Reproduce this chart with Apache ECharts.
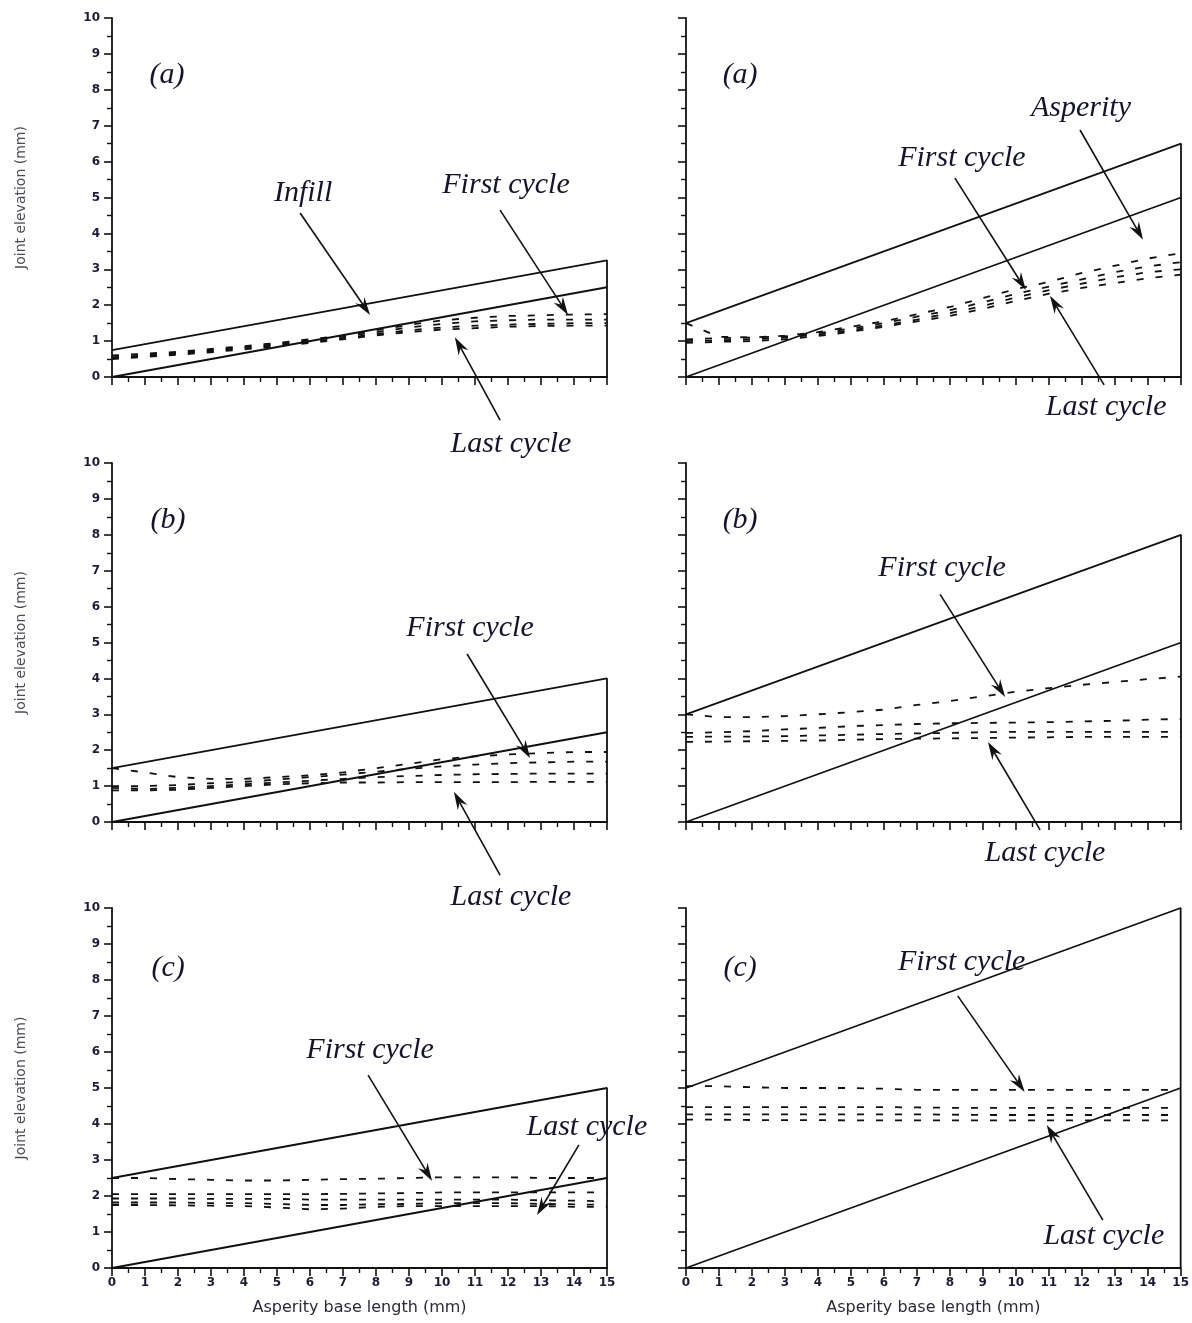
<!DOCTYPE html>
<html><head><meta charset="utf-8">
<script src="https://cdn.jsdelivr.net/npm/echarts@6/dist/echarts.min.js"></script>
<style>html,body{margin:0;padding:0;background:#fff}#c{width:1192px;height:1323px}</style>
</head><body><div id="c"></div>
<script>
// ---- data ----
const xCycle = [0,1,2,3,4,5,6,7,8,9,10,11,12,13,14,15];
const xEnds = [0, 15];
const yTicks = [0,1,2,3,4,5,6,7,8,9,10];

// asperity boundaries: values at x=0 and x=15
const aLeftTop = [0.75, 3.25];   const aLeftBase = [0, 2.5];
const aRightTop = [1.5, 6.5];    const aRightBase = [0, 5];
const bLeftTop = [1.5, 4];       const bLeftBase = [0, 2.5];
const bRightTop = [3, 8];        const bRightBase = [0, 5];
const cLeftTop = [2.5, 5];       const cLeftBase = [0, 2.5];
const cRightTop = [5, 10];       const cRightBase = [0, 5];

// infill surface elevation for successive cycles (first -> last)
const aLeftCycles = [
  [0.60,0.65,0.70,0.78,0.86,0.95,1.05,1.15,1.30,1.45,1.58,1.65,1.70,1.72,1.74,1.75],
  [0.55,0.60,0.68,0.75,0.83,0.92,1.02,1.12,1.25,1.38,1.48,1.55,1.58,1.60,1.60,1.60],
  [0.52,0.58,0.65,0.72,0.80,0.89,0.98,1.08,1.20,1.30,1.38,1.43,1.46,1.48,1.50,1.50],
  [0.50,0.56,0.62,0.69,0.77,0.86,0.95,1.05,1.16,1.25,1.32,1.36,1.40,1.42,1.43,1.43]
];
const aRightCycles = [
  [1.50,1.12,1.10,1.15,1.25,1.40,1.55,1.75,1.95,2.20,2.45,2.65,2.90,3.10,3.30,3.45],
  [1.05,1.08,1.10,1.13,1.22,1.35,1.50,1.68,1.86,2.08,2.32,2.52,2.72,2.92,3.08,3.20],
  [1.00,1.02,1.05,1.10,1.18,1.30,1.44,1.60,1.78,1.98,2.22,2.42,2.60,2.78,2.92,3.00],
  [0.95,0.98,1.00,1.05,1.14,1.26,1.40,1.55,1.70,1.90,2.12,2.32,2.48,2.62,2.75,2.85]
];
const bLeftCycles = [
  [1.50,1.38,1.25,1.20,1.20,1.25,1.30,1.38,1.50,1.62,1.75,1.83,1.88,1.92,1.95,1.95],
  [1.00,1.00,1.03,1.08,1.12,1.18,1.25,1.32,1.40,1.48,1.55,1.60,1.64,1.66,1.68,1.68],
  [0.95,0.92,0.95,1.00,1.05,1.10,1.15,1.20,1.25,1.28,1.31,1.33,1.34,1.35,1.35,1.35],
  [0.88,0.88,0.90,0.95,1.00,1.05,1.08,1.10,1.10,1.11,1.11,1.11,1.11,1.12,1.12,1.12]
];
const bRightCycles = [
  [3.00,2.92,2.92,2.95,3.00,3.06,3.13,3.26,3.37,3.50,3.63,3.73,3.82,3.90,3.98,4.05],
  [2.48,2.50,2.53,2.58,2.62,2.67,2.70,2.73,2.75,2.76,2.77,2.78,2.80,2.82,2.85,2.87],
  [2.37,2.38,2.38,2.39,2.41,2.43,2.45,2.47,2.48,2.50,2.51,2.51,2.51,2.51,2.51,2.51],
  [2.23,2.24,2.25,2.26,2.27,2.29,2.31,2.32,2.33,2.34,2.35,2.36,2.37,2.37,2.37,2.37]
];
const cLeftCycles = [
  [2.50,2.50,2.47,2.45,2.43,2.43,2.45,2.47,2.48,2.50,2.52,2.52,2.52,2.50,2.50,2.50],
  [2.05,2.05,2.05,2.05,2.05,2.05,2.05,2.06,2.07,2.08,2.10,2.10,2.10,2.10,2.10,2.10],
  [1.93,1.93,1.93,1.92,1.92,1.92,1.90,1.90,1.90,1.90,1.90,1.90,1.90,1.88,1.87,1.85],
  [1.82,1.82,1.82,1.80,1.80,1.78,1.75,1.75,1.77,1.78,1.80,1.80,1.80,1.78,1.77,1.75],
  [1.75,1.75,1.74,1.73,1.72,1.68,1.63,1.65,1.70,1.72,1.72,1.72,1.72,1.72,1.70,1.70]
];
const cRightCycles = [
  [5.05,5.05,5.02,5.00,5.00,5.00,4.98,4.95,4.95,4.95,4.95,4.95,4.95,4.95,4.95,4.95],
  [4.47,4.47,4.47,4.47,4.47,4.47,4.47,4.46,4.45,4.45,4.45,4.45,4.45,4.45,4.45,4.45],
  [4.27,4.27,4.27,4.27,4.27,4.27,4.27,4.27,4.26,4.25,4.25,4.25,4.25,4.25,4.25,4.25],
  [4.12,4.12,4.11,4.11,4.11,4.10,4.10,4.10,4.10,4.10,4.10,4.10,4.10,4.10,4.10,4.10]
];

const panelTops = [aLeftTop, aRightTop, bLeftTop, bRightTop, cLeftTop, cRightTop];
const panelBases = [aLeftBase, aRightBase, bLeftBase, bRightBase, cLeftBase, cRightBase];
const panelCycles = [aLeftCycles, aRightCycles, bLeftCycles, bRightCycles, cLeftCycles, cRightCycles];

// ---- annotations (data coordinates of each panel) ----
const notes = [
  {texts:[['(a)',1.67,8.41],['Infill',5.79,5.13],['First cycle',11.94,5.35],['Last cycle',12.09,-1.87]],
   arrows:[[5.70,4.57,7.82,1.73],[11.76,4.65,13.82,1.73],[11.76,-1.20,10.39,1.11]]},
  {texts:[['(a)',1.64,8.41],['Asperity',11.97,7.49],['First cycle',8.36,6.10],['Last cycle',12.73,-0.84]],
   arrows:[[11.94,6.88,13.85,3.82],[8.15,5.54,10.30,2.42],[12.67,-0.22,11.03,2.26]]},
  {texts:[['(b)',1.70,8.41],['First cycle',10.85,5.40],['Last cycle',12.09,-2.09]],
   arrows:[[10.76,4.68,12.67,1.78],[11.76,-1.48,10.36,0.84]]},
  {texts:[['(b)',1.64,8.41],['First cycle',7.76,7.08],['Last cycle',10.88,-0.86]],
   arrows:[[7.70,6.34,9.67,3.48],[10.73,-0.22,9.15,2.23]]},
  {texts:[['(c)',1.70,8.33],['First cycle',7.82,6.06],['Last cycle',14.39,3.92]],
   arrows:[[7.76,5.36,9.70,2.42],[14.15,3.42,12.88,1.47]]},
  {texts:[['(c)',1.64,8.33],['First cycle',8.36,8.50],['Last cycle',12.67,0.89]],
   arrows:[[8.24,7.56,10.27,4.89],[12.64,1.33,10.94,3.97]]}
];

// ---- layout ----
const gridBoxes = [
  {left:112, top:18,  width:495, height:359},
  {left:686, top:18,  width:495, height:359},
  {left:112, top:463, width:495, height:359},
  {left:686, top:463, width:495, height:359},
  {left:112, top:908, width:495, height:360},
  {left:686, top:908, width:495, height:360}
];
const INK = '#111';
const LABEL = '#1c1c38';
const axisFont = 'DejaVu Sans';

const xAxes = [], yAxes = [], series = [];
gridBoxes.forEach((g, i) => {
  const isLeft = i % 2 === 0, isBottom = i >= 4;
  xAxes.push({
    type:'value', gridIndex:i, min:xEnds[0], max:xEnds[1], interval:1,
    axisLine:{show:true, onZero:false, lineStyle:{color:INK, width:1.8}},
    axisTick:{show:true, length:8, lineStyle:{color:INK, width:1.6}},
    minorTick:{show:true, splitNumber:2, length:5, lineStyle:{color:INK, width:1.4}},
    splitLine:{show:false}, minorSplitLine:{show:false},
    axisLabel:{show:isBottom, margin:9, color:LABEL, fontFamily:axisFont, fontWeight:'bold', fontSize:12},
    name: isBottom ? 'Asperity base length (mm)' : '', nameLocation:'middle', nameGap:32,
    nameTextStyle:{color:'#2a2a3a', fontFamily:axisFont, fontSize:16}
  });
  yAxes.push({
    type:'value', gridIndex:i, min:yTicks[0], max:yTicks[yTicks.length-1], interval:1,
    axisLine:{show:true, onZero:false, lineStyle:{color:INK, width:1.8}},
    axisTick:{show:true, length:8, lineStyle:{color:INK, width:1.6}},
    minorTick:{show:true, splitNumber:2, length:5, lineStyle:{color:INK, width:1.4}},
    splitLine:{show:false}, minorSplitLine:{show:false},
    axisLabel:{show:isLeft, margin:12, color:LABEL, fontFamily:axisFont, fontWeight:'bold', fontSize:12},
    name: isLeft ? 'Joint elevation (mm)' : '', nameLocation:'middle', nameGap:84,
    nameTextStyle:{color:'#4a4a58', fontFamily:axisFont, fontSize:14}
  });
  const top = panelTops[i], base = panelBases[i];
  series.push({
    type:'line', xAxisIndex:i, yAxisIndex:i, symbol:'none', silent:true,
    lineStyle:{color:INK, width:1.8},
    data:[[xEnds[0], top[0]], [xEnds[1], top[1]], [xEnds[1], 0]]
  });
  series.push({
    type:'line', xAxisIndex:i, yAxisIndex:i, symbol:'none', silent:true,
    lineStyle:{color:INK, width:1.8},
    data:[[xEnds[0], base[0]], [xEnds[1], base[1]]]
  });
  panelCycles[i].forEach(cyc => {
    series.push({
      type:'line', xAxisIndex:i, yAxisIndex:i, symbol:'none', silent:true,
      lineStyle:{color:INK, width:1.8, type:[7,12]},
      data: xCycle.map((x, k) => [x, cyc[k]])
    });
  });
});

const chart = echarts.init(document.getElementById('c'), null, {renderer:'canvas'});
chart.setOption({
  animation:false, backgroundColor:'#fff',
  grid: gridBoxes.map(g => Object.assign({containLabel:false}, g)),
  xAxis: xAxes, yAxis: yAxes, series: series
});

// ---- annotation graphics ----
const gfx = [];
function px(i, x, y){ return chart.convertToPixel({xAxisIndex:i, yAxisIndex:i}, [x, y]); }
notes.forEach((n, i) => {
  n.texts.forEach(t => {
    const p = px(i, t[1], t[2]);
    gfx.push({type:'text', x:p[0], y:p[1], silent:true, style:{
      text:t[0], fill:'#14142e', font:'italic 30px "Liberation Serif"', align:'center', verticalAlign:'middle'}});
  });
  n.arrows.forEach(a => {
    const p1 = px(i, a[0], a[1]), p2 = px(i, a[2], a[3]);
    const dx = p2[0]-p1[0], dy = p2[1]-p1[1], L = Math.hypot(dx, dy);
    const ux = dx/L, uy = dy/L, nx = -uy, ny = ux;
    const len = 18, hw = 5.5, notch = 12;
    const nt = [p2[0]-ux*notch, p2[1]-uy*notch];
    gfx.push({type:'line', silent:true, shape:{x1:p1[0], y1:p1[1], x2:nt[0], y2:nt[1]},
      style:{stroke:INK, lineWidth:1.6}});
    gfx.push({type:'polygon', silent:true, shape:{points:[
      p2, [p2[0]-ux*len+nx*hw, p2[1]-uy*len+ny*hw], nt, [p2[0]-ux*len-nx*hw, p2[1]-uy*len-ny*hw]]},
      style:{fill:INK}});
  });
});
chart.setOption({graphic: gfx});
</script></body></html>
